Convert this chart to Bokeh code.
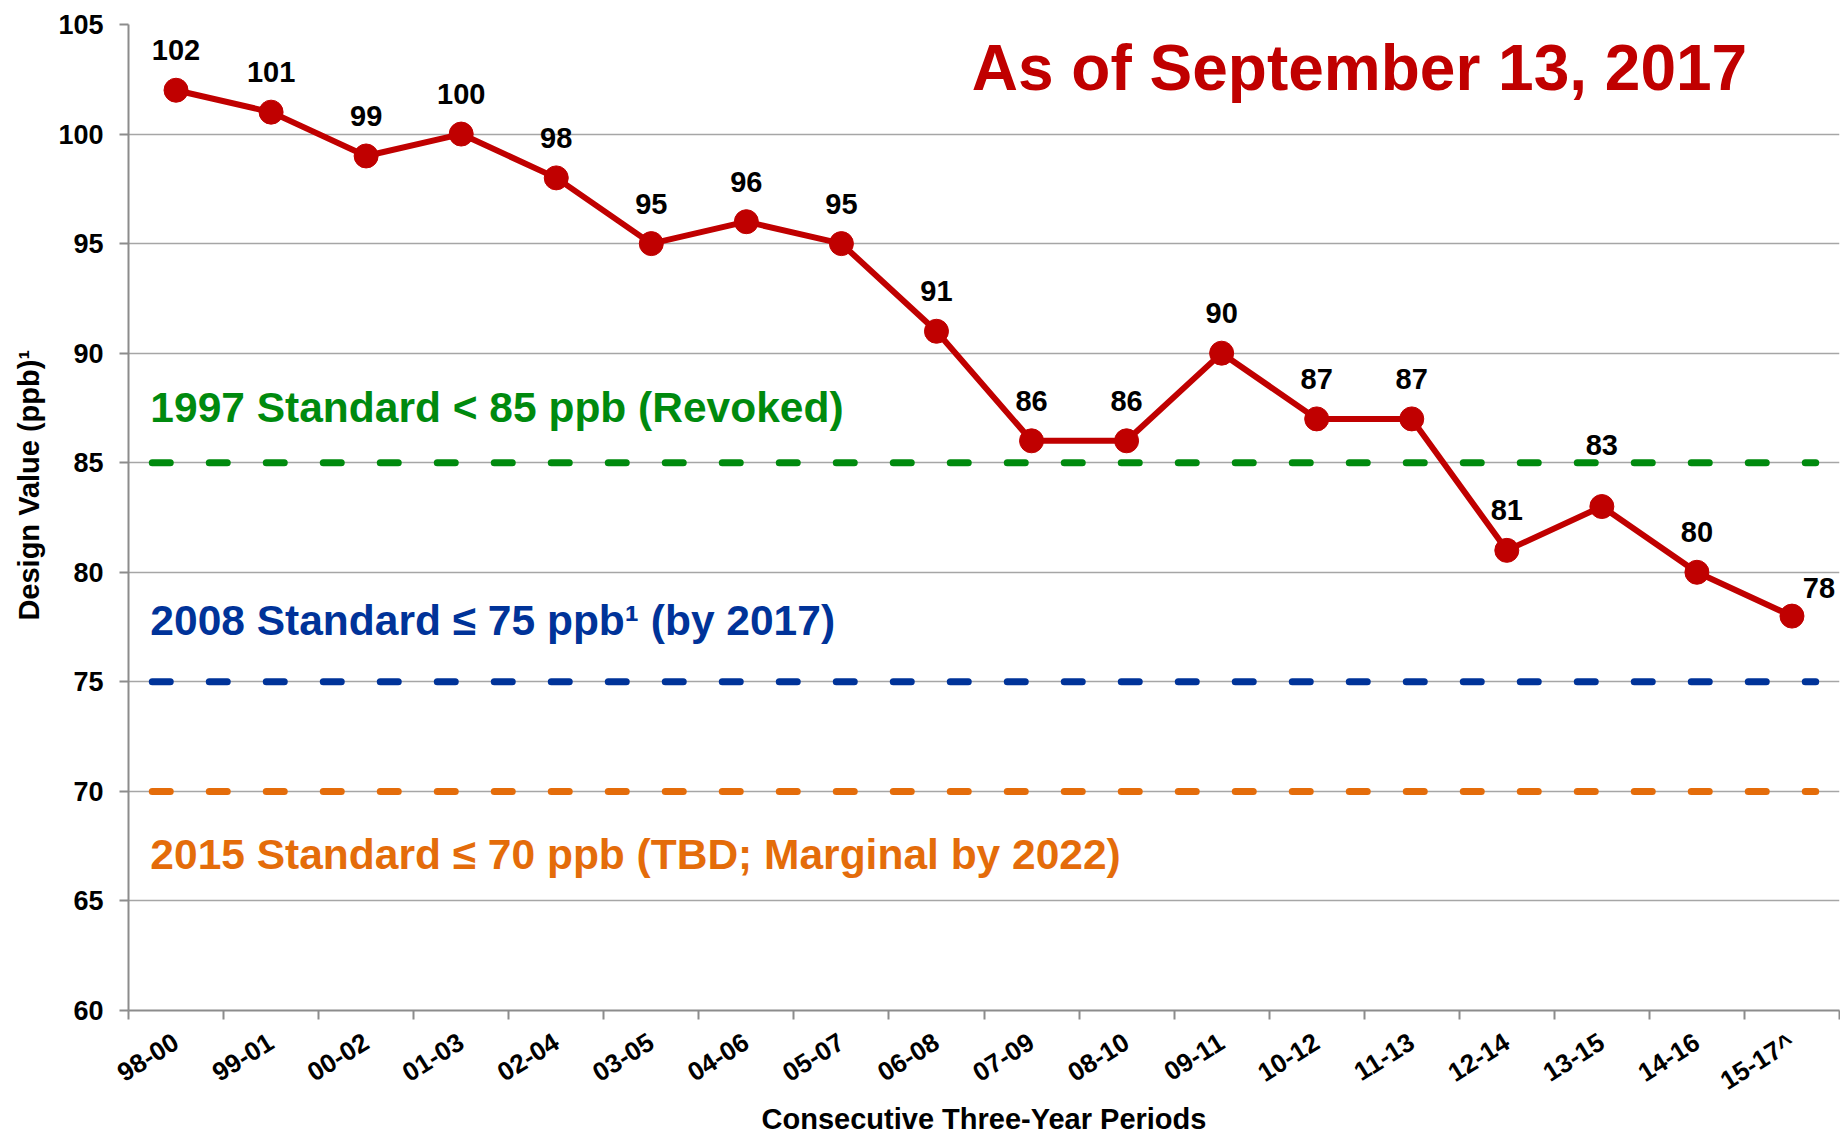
import math
import numpy as np
from bokeh.plotting import figure
from bokeh.models import Range1d, FixedTicker, Label
from bokeh.core.properties import value
from bokeh.embed import file_html
from bokeh.resources import INLINE

# ---------------- data ----------------
periods = ["98-00", "99-01", "00-02", "01-03", "02-04", "03-05", "04-06", "05-07",
           "06-08", "07-09", "08-10", "09-11", "10-12", "11-13", "12-14", "13-15",
           "14-16", "15-17^"]
design_values = [102, 101, 99, 100, 98, 95, 96, 95, 91, 86, 86, 90, 87, 87, 81, 83, 80, 78]
y_ticks = [60, 65, 70, 75, 80, 85, 90, 95, 100, 105]
standard_values = [85, 75, 70]
standard_texts = ["1997 Standard < 85 ppb (Revoked)",
                  "2008 Standard \u2264 75 ppb\u00b9 (by 2017)",
                  "2015 Standard \u2264 70 ppb (TBD; Marginal by 2022)"]
title_text = "As of September 13, 2017"
x_title = "Consecutive Three-Year Periods"
y_title = "Design Value (ppb)\u00b9"

# ---------------- style ----------------
FONT = "Liberation Sans"
RED = "#C00000"
AXIS_GREY = "#8C8C8C"
standard_colors = ["#008A0E", "#003399", "#E46C0A"]
standard_text_y = [87.5, 77.8, 67.1]
label_dx = [0] * 17 + [27]
label_dy = [-40] * 15 + [-62, -40, -28]

n = len(periods)
xs = np.arange(n) + 0.5

p = figure(width=1840, height=1138, output_backend="svg", toolbar_location=None,
           x_range=Range1d(0, n), y_range=Range1d(60, 105),
           min_border_left=128, min_border_right=1, min_border_top=24, min_border_bottom=128)
p.outline_line_color = None
p.background_fill_color = "white"

# grid
p.xgrid.grid_line_color = None
p.ygrid.ticker = FixedTicker(ticks=y_ticks)
p.ygrid.grid_line_color = "#A6A6A6"
p.ygrid.grid_line_width = 1.5

# x axis
xa = p.xaxis[0]
xa.ticker = FixedTicker(ticks=list(xs), minor_ticks=list(range(n + 1)))
xa.major_label_overrides = {float(x): lab for x, lab in zip(xs, periods)}
xa.major_tick_line_color = None
xa.major_tick_out = 9
xa.minor_tick_line_color = AXIS_GREY
xa.minor_tick_line_width = 2
xa.minor_tick_out = 9
xa.minor_tick_in = 0
xa.axis_line_color = AXIS_GREY
xa.axis_line_width = 2
xa.major_label_orientation = math.radians(32)
xa.major_label_text_font = FONT
xa.major_label_text_font_style = "bold"
xa.major_label_text_font_size = "26px"
xa.major_label_text_color = "black"
xa.major_label_standoff = 20
xa.axis_label = x_title
xa.axis_label_text_font = FONT
xa.axis_label_text_font_style = "bold"
xa.axis_label_text_font_size = "29px"
xa.axis_label_text_color = "black"
xa.axis_label_standoff = -8

# y axis
ya = p.yaxis[0]
ya.ticker = FixedTicker(ticks=y_ticks)
ya.major_tick_out = 9
ya.major_tick_in = 0
ya.major_tick_line_color = AXIS_GREY
ya.major_tick_line_width = 2
ya.minor_tick_line_color = None
ya.axis_line_color = AXIS_GREY
ya.axis_line_width = 2
ya.major_label_text_font = FONT
ya.major_label_text_font_style = "bold"
ya.major_label_text_font_size = "27px"
ya.major_label_text_color = "black"
ya.major_label_standoff = 16
ya.axis_label = "\u00a0" * 8 + y_title
ya.axis_label_text_font = FONT
ya.axis_label_text_font_style = "bold"
ya.axis_label_text_font_size = "29px"
ya.axis_label_text_color = "black"
ya.axis_label_standoff = 10

# standards
for v, c, t, ty in zip(standard_values, standard_colors, standard_texts, standard_text_y):
    p.segment(x0=[0.25], x1=[n - 0.25], y0=[v], y1=[v], line_color=c, line_width=7,
              line_dash="18 39", line_cap="round")
    p.add_layout(Label(x=0.23, y=ty, text=t, text_color=c, text_font=FONT,
                       text_font_style="bold", text_font_size="42.5px",
                       text_baseline="middle", text_align="left"))

# data series
p.line(xs, design_values, line_color=RED, line_width=6)
p.scatter(xs, design_values, size=24, fill_color=RED, line_color=RED)
p.text(x=xs, y=design_values, text=[str(v) for v in design_values],
       x_offset=label_dx, y_offset=label_dy,
       text_font=value(FONT), text_font_style="bold", text_font_size="29px",
       text_color="black", text_align="center", text_baseline="middle")

# title
p.add_layout(Label(x=12.95, y=103.0, text=title_text, text_color=RED, text_font=FONT,
                   text_font_style="bold", text_font_size="64px",
                   text_align="center", text_baseline="middle"))

open("out.html", "w").write(file_html(p, INLINE))
